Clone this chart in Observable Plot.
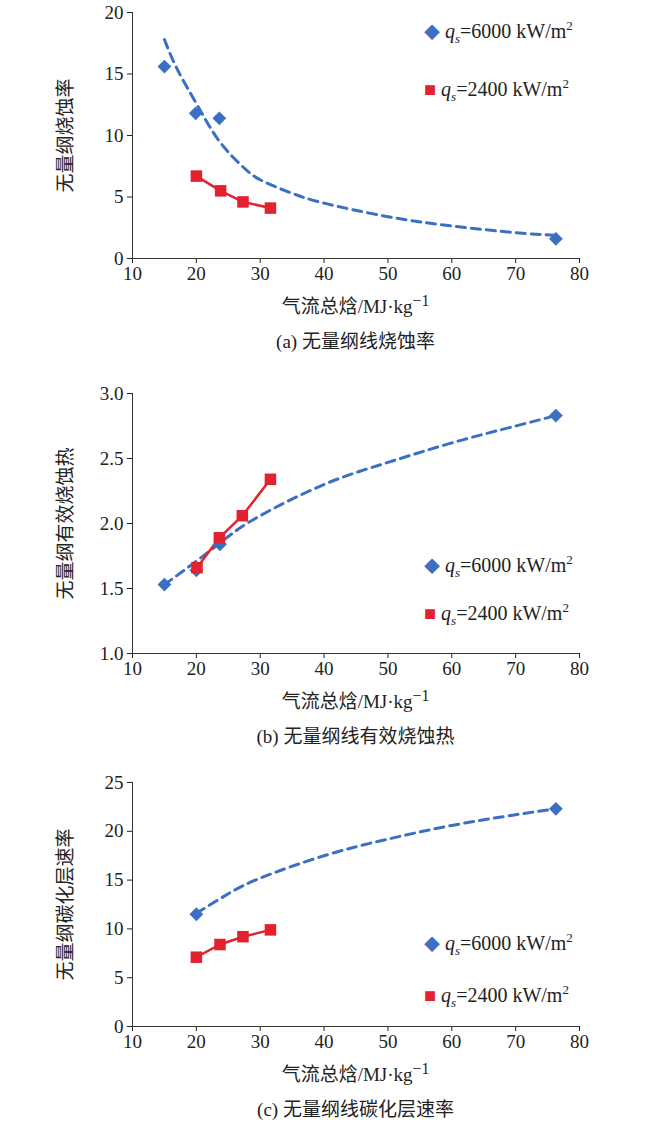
<!DOCTYPE html>
<html><head><meta charset="utf-8">
<script src="https://cdn.jsdelivr.net/npm/d3@7"></script>
<script src="https://cdn.jsdelivr.net/npm/@observablehq/plot@0.6"></script>
<style>
body{margin:0;background:#fff;font-family:"Liberation Serif","Noto Sans CJK SC",serif;}
#c{position:relative;width:650px;height:1127px;}
.abs{position:absolute;white-space:nowrap;color:#222;}
.xl{left:0;width:650px;padding-left:61px;box-sizing:border-box;text-align:center;font-size:19px;}
.cap{left:0;width:650px;padding-left:61px;box-sizing:border-box;text-align:center;font-size:19px;}
.leg{font-size:20px;}
</style></head><body><div id="c"></div>
<script>
const xTicks=[10,20,30,40,50,60,70,80];
// (a)
const aBlue=[[15,15.6],[19.9,11.8],[23.6,11.4],[76.3,1.6]];
const aRed=[[20,6.7],[23.8,5.5],[27.3,4.6],[31.6,4.1]];
const aTrend=[[15,17.8],[17,15.4],[20,12.6],[23.5,9.6],[27,7.6],[30,6.4],[35,5.3],[40,4.5],[50,3.4],[60,2.65],[70,2.1],[76,1.9]];
// (b)
const bBlue=[[15,1.53],[20,1.64],[23.7,1.84],[76.3,2.83]];
const bRed=[[20.1,1.66],[23.6,1.89],[27.2,2.06],[31.6,2.34]];
const bTrend=[[15,1.53],[20,1.71],[25,1.9],[30,2.06],[40,2.3],[50,2.47],[60,2.62],[70,2.75],[76.3,2.83]];
// (c)
const cBlue=[[20,11.5],[76.3,22.3]];
const cRed=[[20,7.1],[23.7,8.4],[27.3,9.2],[31.6,9.9]];
const cTrend=[[20,11.6],[25,13.6],[30,15.2],[40,17.5],[50,19.2],[60,20.6],[70,21.7],[76.3,22.3]];
const panels=[
 {top:0,h:246,y:[0,20],yt:[0,5,10,15,20],yl:"无量纲烧蚀率",b:aBlue,r:aRed,t:aTrend,fmt:d=>d,xl:"气流总焓/MJ·kg<sup>−1</sup>",cap:"(a) 无量纲线烧蚀率",leg:[18,76]},
 {top:381,h:260,y:[1,3],yt:[1,1.5,2,2.5,3],yl:"无量纲有效烧蚀热",b:bBlue,r:bRed,t:bTrend,fmt:d=>d.toFixed(1),xl:"气流总焓/MJ·kg<sup>−1</sup>",cap:"(b) 无量纲线有效烧蚀热",leg:[552,600]},
 {top:770,h:244,y:[0,25],yt:[0,5,10,15,20,25],yl:"无量纲碳化层速率",b:cBlue,r:cRed,t:cTrend,fmt:d=>d,xl:"气流总焓/MJ·kg<sup>−1</sup>",cap:"(c) 无量纲线碳化层速率",leg:[930,982]}
];
const C=document.getElementById("c");
const BLUE="#3b6fc2",RED="#e2222f";
for(const p of panels){
 const pt=a=>a.map(([x,y])=>({x,y}));
 const svg=Plot.plot({width:650,height:p.h+44,marginTop:12,marginBottom:32,marginLeft:132,marginRight:71,
  style:{fontFamily:"Liberation Serif, serif",fontSize:"19px",color:"#222",background:"transparent"},
  x:{domain:[10,80],label:null},
  y:{domain:p.y},
  marks:[
   Plot.axisY({ticks:p.yt,tickFormat:p.fmt,tickSize:5,tickPadding:4,label:p.yl,labelAnchor:"center",labelArrow:"none",labelOffset:74,fontSize:19}),
   Plot.axisX({ticks:xTicks,tickSize:5,tickPadding:3,label:null,fontSize:19}),
   Plot.ruleX([10],{stroke:"#333"}),Plot.ruleY([p.y[0]],{stroke:"#333"}),
   Plot.line(pt(p.t),{x:"x",y:"y",curve:"natural",stroke:BLUE,strokeWidth:3,strokeDasharray:"9,6"}),
   Plot.line(pt(p.r),{x:"x",y:"y",stroke:RED,strokeWidth:2.5}),
   Plot.dot(pt(p.b),{x:"x",y:"y",symbol:"square",fill:BLUE,r:5.5,rotate:45}),
   Plot.dot(pt(p.r),{x:"x",y:"y",symbol:"square",fill:RED,r:6.5})
  ]});
 svg.style.position="absolute";svg.style.left="0";svg.style.top=p.top+"px";
 svg.querySelectorAll('[aria-label="y-axis label"] text').forEach(t=>{t.style.fontFamily="Noto Sans CJK SC";t.style.fontSize="19px";});
 C.appendChild(svg);
 const bottom=p.top+12+p.h;
 const xl=document.createElement("div");xl.className="abs xl";xl.style.top=(bottom+33)+"px";xl.innerHTML=p.xl;C.appendChild(xl);
 const cp=document.createElement("div");cp.className="abs cap";cp.style.top=(bottom+68)+"px";cp.textContent=p.cap;C.appendChild(cp);
 const labs=[["6000",BLUE,"◆",16],["2400",RED,"■",20]];
 labs.forEach(([v,col,s,fs],i)=>{const d=document.createElement("div");d.className="abs leg";d.style.left="424px";d.style.top=p.leg[i]+"px";
  d.innerHTML=`<span style="color:${col};font-size:${fs}px">${s}</span> <i>q<sub style="font-size:13px">s</sub></i>=${v} kW/m<sup style="font-size:13px">2</sup>`;C.appendChild(d);});
}
</script></body></html>
